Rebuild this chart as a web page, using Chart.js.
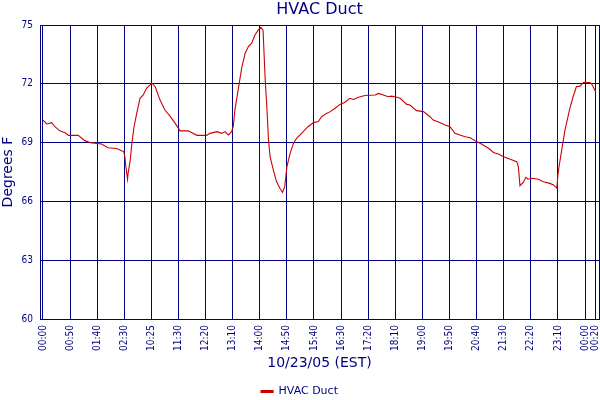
<!DOCTYPE html>
<html>
<head>
<meta charset="utf-8">
<script src="https://cdn.jsdelivr.net/npm/chart.js@4.4.1/dist/chart.umd.min.js"></script>
<style>
html,body{margin:0;padding:0;background:#ffffff;}
#wrap{width:600px;height:400px;}
</style>
</head>
<body>
<div id="wrap"><canvas id="c" width="600" height="400"></canvas></div>
<script>
// Elapsed plot minutes (one label every 50 plotted minutes)
const minutes = [0,7,16,22,31,41,47,65,77,87,
  108,120,136,145,149,151,153,156,157,161,
  164,168,173,179,185,191,201,207,216,225,
  234,244,253,268,284,302,308,321,330,336,
  342,348,351,354,360,367,373,379,385,391,
  397,402,406,410,413,416,419,425,431,437,
  442,446,450,456,462,468,477,489,499,508,
  514,523,530,539,548,557,566,573,582,594,
  613,619,628,637,643,653,659,671,677,689,
  702,714,720,732,742,751,760,769,779,788,
  800,809,822,831,840,850,862,874,877,880,
  886,891,895,902,914,923,935,942,948,950,
  952,957,963,972,978,984,991,997,1009,1012,
  1018,1020];
// HVAC duct temperature, degrees F
const temps = [70.15,69.95,70.02,69.81,69.6,69.5,69.37,69.37,69.1,69.0,
  68.93,68.74,68.7,68.59,68.54,68.28,67.77,67.13,67.43,68.1,
  68.96,69.81,70.5,71.26,71.43,71.77,72.03,71.85,71.17,70.66,
  70.36,69.98,69.6,69.6,69.37,69.37,69.47,69.56,69.47,69.56,
  69.39,69.56,69.81,70.66,71.68,72.87,73.56,73.9,74.07,74.49,
  74.74,74.88,74.74,72.19,70.83,69.13,68.28,67.6,67.0,66.67,
  66.46,66.75,67.77,68.45,68.96,69.22,69.47,69.81,70.02,70.07,
  70.32,70.49,70.58,70.75,70.95,71.06,71.26,71.2,71.31,71.4,
  71.43,71.51,71.43,71.34,71.37,71.31,71.26,70.95,70.92,70.63,
  70.58,70.32,70.15,70.02,69.9,69.81,69.47,69.39,69.3,69.25,
  69.05,68.93,68.71,68.5,68.42,68.28,68.15,68.03,67.77,66.8,
  66.97,67.23,67.13,67.18,67.13,67.0,66.92,66.84,66.67,67.35,
  67.77,68.62,69.64,70.75,71.34,71.85,71.88,72.07,72.07,72.0,
  71.68,71.6];
const tickMinutes = [0,50,100,150,200,250,300,350,400,450,500,550,600,650,700,750,800,850,900,950,1000,1020];
const tickLabels = ['00:00','00:50','01:40','02:30','10:25','11:30','12:20','13:10','14:00','14:50','15:40','16:30','17:20','18:10','19:00','19:50','20:40','21:30','22:20','23:10','00:00','00:20'];
const yMin = 60, yMax = 75, yStep = 3;
const xMin = -5.5, xMax = 1025.8;

const navy = '#000080';
const mainFont = "'DejaVu Sans', Verdana, sans-serif";
const tickFont = "'DejaVu Sans Condensed', 'Liberation Sans Narrow', 'DejaVu Sans', sans-serif";

new Chart(document.getElementById('c').getContext('2d'), {
  type: 'line',
  data: {
    datasets: [{
      label: 'HVAC Duct',
      data: minutes.map((m, i) => ({x: m, y: temps[i]})),
      borderColor: '#cc0000',
      backgroundColor: '#cc0000',
      borderWidth: 1.1,
      pointRadius: 0,
      tension: 0,
      fill: false
    }]
  },
  options: {
    responsive: false,
    animation: false,
    devicePixelRatio: 1,
    layout: {padding: {left: 0, right: 1, top: 0, bottom: -7}},
    plugins: {
      title: {
        display: true, text: 'HVAC Duct', color: navy, fullSize: false,
        font: {family: mainFont, size: 16, weight: 'normal'},
        padding: {top: 0, bottom: 5.8}
      },
      legend: {
        position: 'bottom',
        labels: {color: navy, font: {family: mainFont, size: 11}, boxWidth: 12, boxHeight: 2, padding: 10}
      },
      tooltip: {enabled: false}
    },
    scales: {
      x: {
        type: 'linear', min: xMin, max: xMax, bounds: 'data',
        afterBuildTicks: s => { s.ticks = tickMinutes.map(v => ({value: v})).concat([{value: xMax}]); },
        afterFit: s => { s.height = 57; s.paddingLeft = 0; s.paddingRight = 0; },
        ticks: {
          autoSkip: false, minRotation: 90, maxRotation: 90, padding: 6, color: navy,
          font: {family: tickFont, size: 10},
          callback: v => { const k = tickMinutes.indexOf(v); return k >= 0 ? tickLabels[k] : ''; }
        },
        grid: {color: navy, lineWidth: 1, drawTicks: false},
        border: {display: true, color: navy, width: 1},
        title: {display: true, text: '10/23/05 (EST)', color: navy, font: {family: mainFont, size: 14}, padding: {top: 0, bottom: 4}}
      },
      y: {
        type: 'linear', min: yMin, max: yMax,
        afterFit: s => { s.width = 40; s.paddingTop = 0; s.paddingBottom = 0; },
        ticks: {stepSize: yStep, padding: 7, color: navy, font: {family: tickFont, size: 10}},
        grid: {color: navy, lineWidth: 1, drawTicks: false},
        border: {display: true, color: navy, width: 1},
        title: {display: true, text: 'Degrees F', color: navy, font: {family: mainFont, size: 14}, padding: {top: 0, bottom: 0}}
      }
    }
  }
});
</script>
</body>
</html>
